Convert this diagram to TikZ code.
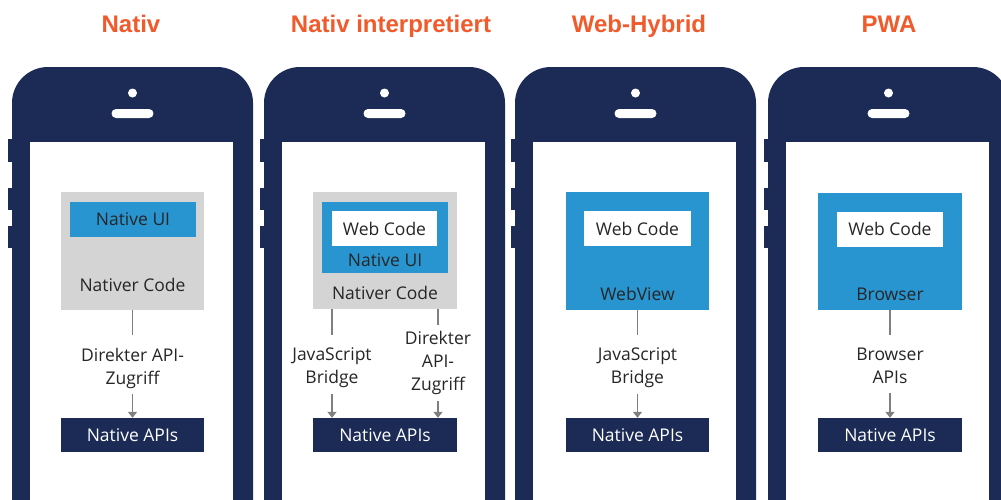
\documentclass[tikz,border=0pt]{standalone}
\usepackage{fontspec}
\setmainfont{Open Sans}
\newfontfamily\titlefont{Liberation Sans}
\usetikzlibrary{arrows.meta}
\definecolor{navy}{HTML}{1B2B55}
\definecolor{skyblue}{HTML}{2895D1}
\definecolor{boxgray}{HTML}{D4D4D4}
\definecolor{titleorange}{HTML}{F15A2B}
\definecolor{txtdark}{HTML}{262626}
\definecolor{connc}{HTML}{7F7F7F}
\tikzset{
  title/.style={font=\titlefont\fontsize{24}{28}\selectfont\bfseries, text=titleorange, anchor=base, inner sep=0},
  bodyfont/.style={font=\fontsize{17.5}{23}\selectfont},
  graybox/.style={fill=boxgray, inner sep=0, minimum width=143pt, minimum height=118pt},
  bluebox/.style={fill=skyblue, inner sep=0, minimum width=143pt, minimum height=118pt},
  uibox/.style={fill=skyblue, inner sep=0, bodyfont, text=txtdark},
  webbox/.style={fill=white, inner sep=0, minimum width=106pt, minimum height=35pt, bodyfont, text=txtdark},
  boxtext/.style={bodyfont, text=txtdark, anchor=base, inner sep=0},
  lbl/.style={bodyfont, text=txtdark, align=center, inner xsep=0, inner ysep=6pt},
  apibox/.style={fill=navy, text=white, bodyfont, inner sep=0, minimum width=143pt, minimum height=34pt},
  tline/.style={draw=connc, line width=1.3pt, shorten >=7pt},
  aline/.style={draw=connc, line width=1.3pt, -{Triangle[width=9pt,length=6pt]}},
}
\newcommand{\phonebody}[1]{%
  \fill[navy, rounded corners=36pt] (#1,540) -- (#1,67) -- (#1+241,67) -- (#1+241,540) -- cycle;
  \fill[navy] (#1-4,139) rectangle (#1+1,162);
  \fill[navy] (#1-4,188) rectangle (#1+1,210);
  \fill[navy] (#1-4,226) rectangle (#1+1,248);
  \fill[white] (#1+18,142) rectangle (#1+221,540);
  \fill[white] (#1+120.5,93) circle (4.5);
  \fill[white, rounded corners=4.5pt] (#1+99.5,109) rectangle (#1+141.5,118);
}
\begin{document}
\begin{tikzpicture}[x=1pt,y=-1pt]
\useasboundingbox (0,0) rectangle (1001,499);
\clip (0,0) rectangle (1001,499);
\fill[white] (0,0) rectangle (1001,499);

% titles
\node[title] (t1) at (131,32) {Nativ};
\node[title] (t2) at (391,32) {Nativ interpretiert};
\node[title] (t3) at (639,32) {Web-Hybrid};
\node[title] (t4) at (889,32) {PWA};

% phone bodies
\phonebody{12}
\phonebody{264}
\phonebody{515}
\phonebody{768}

% ---- Phone 1: Nativ
\node[graybox] (o1) at (132.5,251) {};
\node[uibox, minimum width=126pt, minimum height=35pt] (u1) at (133,219.5) {Native UI};
\node[boxtext] (c1) at (132.5,291) {Nativer Code};
\node[lbl] (l1) at (132.5,368) {Direkter API-\\Zugriff};
\node[apibox] (a1) at (132.5,435) {Native APIs};
\draw[tline] (o1.south) -- (l1.north);
\draw[aline] (l1.south) -- (a1.north);

% ---- Phone 2: Nativ interpretiert
\node[graybox, minimum width=144pt, minimum height=117pt] (o2) at (385,250.5) {};
\node[uibox, minimum width=126pt, minimum height=71pt] (u2) at (385,237.5) {};
\node[webbox, minimum width=105pt] (w2) at (384.5,228.5) {Web Code};
\node[boxtext] (n2) at (385,266) {Native UI};
\node[boxtext] (c2) at (385,299) {Nativer Code};
\coordinate (o2l) at (332,309);
\coordinate (o2r) at (438,309);
\node[lbl] (l2a) at (332,368) {JavaScript\\Bridge};
\node[lbl] (l2b) at (438,363) {Direkter\\API-\\Zugriff};
\node[apibox, minimum width=144pt] (a2) at (385,435) {Native APIs};
\draw[tline] (o2l) -- (l2a.north);
\draw[tline, shorten >=0pt] (o2r) -- (l2b.north);
\draw[aline] (l2a.south) -- (l2a.south |- a2.north);
\draw[aline] (l2b.south) -- (l2b.south |- a2.north);

% ---- Phone 3: Web-Hybrid
\node[bluebox] (o3) at (637.5,251) {};
\node[webbox, minimum width=107pt] (w3) at (637.5,228.5) {Web Code};
\node[boxtext] (c3) at (637.5,300) {WebView};
\node[lbl] (l3) at (637.5,368) {JavaScript\\Bridge};
\node[apibox] (a3) at (637.5,435) {Native APIs};
\draw[tline] (o3.south) -- (l3.north);
\draw[aline] (l3.south) -- (a3.north);

% ---- Phone 4: PWA
\node[bluebox, minimum width=144pt, minimum height=117pt] (o4) at (890,251.5) {};
\node[webbox] (w4) at (890,229) {Web Code};
\node[boxtext] (c4) at (890,300) {Browser};
\node[lbl] (l4) at (890,366) {Browser\\APIs};
\node[apibox, minimum width=144pt] (a4) at (890,435) {Native APIs};
\draw[tline] (o4.south) -- (l4.north);
\draw[aline, shorten <=3pt] (l4.south) -- (a4.north);
\end{tikzpicture}
\end{document}
